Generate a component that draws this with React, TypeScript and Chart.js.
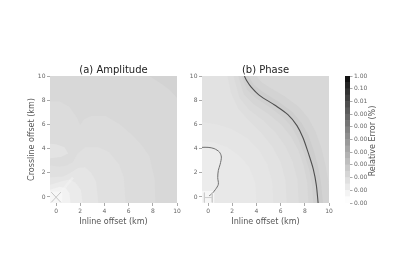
import { useEffect, useRef } from 'react';
import { Chart, registerables } from 'chart.js';

Chart.register(...registerables);
Chart.defaults.font.family = '"DejaVu Sans", sans-serif';

type Pt = [number, number];

// ---------- axes / text ----------
const AXIS_MIN = -0.5;
const AXIS_MAX = 10;
const TICK_STEP = 2;
const PANEL_TITLES = ['(a) Amplitude', '(b) Phase'];
const X_LABEL = 'Inline offset (km)';
const Y_LABEL = 'Crossline offset (km)';
const CB_LABEL = 'Relative Error (%)';
const CB_TICK_LABELS = ['0.00', '0.00', '0.00', '0.00', '0.00', '0.00', '0.00', '0.00', '0.01', '0.10', '1.00'];
const CB_GRAYS = [253, 244, 234, 224, 213, 202, 190, 178, 166, 154, 142, 130, 117, 104, 91, 78, 64, 50, 35, 18];

// ---------- (a) amplitude error zones (outer -> inner) ----------
const AMP_FULL: Pt[] = [[-0.5, -0.5], [10, -0.5], [10, 10], [-0.5, 10]];
const AMP_ZONE1: Pt[] = [[-0.5, -0.5], [10, -0.5], [10, 8.2], [9.4, 8.85], [8.8, 9.3], [8.2, 9.7], [7.7, 10], [-0.5, 10]];
const AMP_ZONE2: Pt[] = [[-0.5, -0.5], [8.2, -0.5], [8.15, 1.5], [7.7, 3.4], [7.0, 4.4], [6.2, 5.2], [5.3, 6.0], [4.1, 6.7], [2.9, 6.7], [2.3, 6.4], [2.0, 5.95], [1.7, 6.6], [1.1, 7.45], [0.3, 7.9], [-0.5, 7.9]];
const AMP_ZONE3: Pt[] = [[-0.5, -0.5], [5.75, -0.5], [5.6, 1.6], [5.2, 2.7], [4.4, 3.7], [3.5, 4.1], [2.4, 4.1], [1.75, 3.55], [1.4, 2.9], [0.9, 2.6], [0.3, 2.5], [-0.5, 2.6]];
const AMP_LOBE: Pt[] = [[-0.5, 3.2], [0.4, 3.3], [1.0, 3.6], [0.7, 4.1], [0, 4.35], [-0.5, 4.4]];
const AMP_ZONE4: Pt[] = [[-0.5, -0.5], [3.5, -0.5], [3.3, 1.3], [2.9, 2.0], [2.4, 2.45], [1.8, 2.4], [1.2, 2.0], [0.6, 1.7], [-0.5, 1.6]];
const AMP_ZONE5: Pt[] = [[-0.5, -0.5], [2.2, -0.5], [2.05, 0.6], [1.6, 1.2], [1.1, 1.45], [0.5, 1.3], [-0.5, 1.0]];
const AMP_ZONE6: Pt[] = [[-0.5, -0.5], [1.2, -0.5], [1.1, 0.3], [0.8, 0.75], [0.3, 0.85], [-0.5, 0.6]];
const AMP_SOURCE: Pt[] = [[-0.5, -0.5], [0.5, -0.5], [0.5, 0.45], [-0.5, 0.45]];
const AMP_RAY: Pt[] = [[0.3, 0.3], [1.4, 1.6]];
const AMP_X1: Pt[] = [[-0.4, 0.4], [0.4, -0.45]];
const AMP_X2: Pt[] = [[0.4, 0.4], [-0.4, -0.45]];
const AMP_SHADES = [211, 216, 220, 224, 227, 229, 235, 242, 247];

// ---------- (b) phase error zones ----------
const PH_FULL: Pt[] = [[-0.5, -0.5], [10, -0.5], [10, 10], [-0.5, 10]];
const PH_OUT2: Pt[] = [[4.0, 10], [4.4, 9.5], [5.1, 9.05], [6.3, 8.35], [7.5, 7.45], [8.3, 6.5], [8.9, 5.4], [9.35, 4.1], [9.7, 2.7], [9.95, 1.3], [10, 0.6]];
const PH_OUT1: Pt[] = [[3.35, 10], [3.75, 9.3], [4.5, 8.7], [5.8, 7.9], [6.95, 7.05], [7.75, 6.1], [8.3, 5.1], [8.75, 3.8], [9.1, 2.5], [9.35, 1.1], [9.5, -0.5]];
const PH_CURVE: Pt[] = [[3.0, 10], [3.2, 9.6], [3.55, 9.1], [4.25, 8.4], [5.5, 7.6], [6.6, 6.8], [7.35, 5.9], [7.85, 4.9], [8.3, 3.6], [8.7, 2.3], [8.95, 1.0], [9.1, -0.5]];
const PH_IN1: Pt[] = [[2.75, 10], [3.25, 8.85], [4.0, 8.15], [5.2, 7.35], [6.25, 6.55], [6.95, 5.75], [7.45, 4.8], [7.95, 3.6], [8.35, 2.3], [8.6, 1.0], [8.7, -0.5]];
const PH_IN2: Pt[] = [[2.5, 10], [2.95, 8.5], [3.8, 7.65], [5.0, 6.85], [6.05, 6.0], [6.85, 5.0], [7.45, 3.9], [7.9, 2.6], [8.2, 1.2], [8.3, -0.5]];
const PH_IN3: Pt[] = [[2.1, 10], [2.6, 8.2], [3.4, 7.2], [4.6, 6.3], [5.6, 5.3], [6.4, 4.2], [7.0, 2.9], [7.4, 1.4], [7.5, -0.5]];
const PH_IN4: Pt[] = [[1.6, 10], [1.9, 8.6], [2.5, 7.3], [3.4, 6.3], [4.4, 5.3], [5.3, 4.2], [6.0, 2.9], [6.4, 1.4], [6.5, -0.5]];
const PH_IN5: Pt[] = [[-0.5, 6.2], [0.8, 6.0], [2.0, 5.6], [3.2, 4.9], [4.2, 3.9], [4.9, 2.7], [5.3, 1.3], [5.4, -0.5]];
const PH_IN6: Pt[] = [[-0.5, 4.6], [0.5, 4.5], [1.6, 4.1], [2.6, 3.4], [3.4, 2.5], [3.9, 1.2], [4.0, -0.5]];
const PH_LOBE: Pt[] = [[-0.5, 4.1], [0, 4.1], [0.5, 4.0], [0.95, 3.7], [1.1, 3.3], [1.0, 2.7], [0.85, 2.2], [0.8, 1.6], [0.85, 1.05], [0.6, 0.6], [0.3, 0.25], [0.1, 0.1]];
const PH_SOURCE: Pt[] = [[-0.5, -0.5], [0.5, -0.5], [0.5, 0.5], [-0.5, 0.5]];
const PH_H1: Pt[] = [[-0.3, 0.35], [-0.3, -0.45]];
const PH_H2: Pt[] = [[0.35, 0.35], [0.35, -0.45]];
const PH_H3: Pt[] = [[-0.3, -0.05], [0.35, -0.05]];
const PH_SHADES = [216, 211, 205, 208, 213, 218, 222, 226, 229, 232, 236, 246];

// ---------- helpers ----------
const gray = (g: number) => `rgb(${g},${g},${g})`;
const toXY = (pts: Pt[]) => pts.map(([x, y]) => ({ x, y }));
const CORNER_BL: Pt = [-0.5, -0.5];
const CORNER_TL: Pt = [-0.5, 10];
const CORNER_BR: Pt = [10, -0.5];

function zone(points: Pt[], g: number, order: number) {
  return {
    data: toXY(points),
    showLine: true,
    fill: 'shape',
    backgroundColor: gray(g),
    borderColor: 'rgba(0,0,0,0)',
    borderWidth: 0,
    pointRadius: 0,
    pointHoverRadius: 0,
    tension: 0,
    order,
  };
}

function curve(points: Pt[], color: string, width: number, order: number, tension = 0.3) {
  return {
    data: toXY(points),
    showLine: true,
    fill: false,
    borderColor: color,
    backgroundColor: color,
    borderWidth: width,
    pointRadius: 0,
    pointHoverRadius: 0,
    tension,
    order,
  };
}

const TICK_FONT = { size: 6 };
const TICK_COLOR = '#666';
const LABEL_COLOR = '#555';
const fmtTick = (v: number) => String(Math.round(v));

// panel title centred over the plot area (like matplotlib axes titles)
const panelTitlePlugin = {
  id: 'panelTitle',
  afterDraw(chart: any, _args: any, opts: any) {
    if (!opts || !opts.text) return;
    const { ctx, chartArea } = chart;
    ctx.save();
    ctx.font = '10px "DejaVu Sans", sans-serif';
    ctx.fillStyle = '#222';
    ctx.textAlign = 'center';
    ctx.textBaseline = 'middle';
    ctx.fillText(opts.text, (chartArea.left + chartArea.right) / 2, chartArea.top - 6);
    ctx.restore();
  },
};

function panelConfig(title: string, datasets: any[], padLeft: number, padRight: number, yWidth: number, yTitle: boolean) {
  return {
    type: 'scatter',
    data: { datasets },
    options: {
      responsive: false,
      animation: false,
      events: [],
      layout: { padding: { left: padLeft, right: padRight, top: 76, bottom: 52 } },
      plugins: {
        legend: { display: false },
        tooltip: { enabled: false },
        title: { display: false },
        panelTitle: { text: title },
      },
      scales: {
        x: {
          type: 'linear',
          min: AXIS_MIN,
          max: AXIS_MAX,
          afterFit: (s: any) => { s.height = 25; },
          ticks: { stepSize: TICK_STEP, includeBounds: false, font: TICK_FONT, color: TICK_COLOR, padding: 2, maxRotation: 0, autoSkip: false, callback: fmtTick },
          grid: { drawOnChartArea: false, tickLength: 3, color: '#aaa' },
          border: { display: false },
          title: { display: true, text: X_LABEL, color: LABEL_COLOR, font: { size: 8 }, padding: { top: 0, bottom: 1.5 } },
        },
        y: {
          type: 'linear',
          min: AXIS_MIN,
          max: AXIS_MAX,
          afterFit: (s: any) => { s.width = yWidth; },
          ticks: { stepSize: TICK_STEP, includeBounds: false, font: TICK_FONT, color: TICK_COLOR, padding: 1.5, autoSkip: false, callback: fmtTick },
          grid: { drawOnChartArea: false, tickLength: 3, color: '#aaa' },
          border: { display: false },
          title: { display: yTitle, text: Y_LABEL, color: LABEL_COLOR, font: { size: 8 }, padding: { top: 7.5, bottom: 0 } },
        },
      },
    },
    plugins: [panelTitlePlugin],
  };
}

function ampConfig() {
  const s = AMP_SHADES;
  const datasets = [
    zone(AMP_FULL, s[0], 100),
    zone(AMP_ZONE1, s[1], 99),
    zone(AMP_ZONE2, s[2], 98),
    zone(AMP_ZONE3, s[3], 97),
    zone(AMP_LOBE, s[4], 96),
    zone(AMP_ZONE4, s[5], 95),
    zone(AMP_ZONE5, s[6], 94),
    zone(AMP_ZONE6, s[7], 93),
    zone(AMP_SOURCE, s[8], 92),
    curve(AMP_RAY, 'rgba(245,245,245,0.45)', 2.5, 5, 0),
    curve(AMP_X1, gray(198), 1, 3, 0),
    curve(AMP_X2, gray(198), 1, 3, 0),
  ];
  return panelConfig(PANEL_TITLES[0], datasets, 20, 223, 30, true);
}

function phaseConfig() {
  const s = PH_SHADES;
  const leftOf = (b: Pt[]) => [CORNER_BL, ...[...b].reverse(), CORNER_TL] as Pt[];
  const datasets = [
    zone(PH_FULL, s[0], 100),
    zone([CORNER_BL, CORNER_BR, ...[...PH_OUT2].reverse(), CORNER_TL], s[1], 99),
    zone(leftOf(PH_OUT1), s[2], 98),
    zone(leftOf(PH_CURVE), s[3], 97),
    zone(leftOf(PH_IN1), s[4], 96),
    zone(leftOf(PH_IN2), s[5], 95),
    zone(leftOf(PH_IN3), s[6], 94),
    zone(leftOf(PH_IN4), s[7], 93),
    zone([CORNER_BL, ...[...PH_IN5].reverse()], s[8], 92),
    zone([CORNER_BL, ...[...PH_IN6].reverse()], s[9], 91),
    zone([...PH_LOBE, [0.5, 0.5], [0.5, -0.5], CORNER_BL], s[10], 90),
    zone(PH_SOURCE, s[11], 89),
    curve(PH_CURVE, '#4f4f4f', 1.1, 2),
    curve(PH_LOBE, '#6f6f6f', 1, 2),
    curve(PH_H1, gray(205), 1, 1, 0),
    curve(PH_H2, gray(205), 1, 1, 0),
    curve(PH_H3, gray(205), 1, 1, 0),
  ];
  return panelConfig(PANEL_TITLES[1], datasets, 187, 71, 15, false);
}

const cbTitlePlugin = {
  id: 'cbTitle',
  afterDraw(chart: any) {
    const { ctx, chartArea, scales } = chart;
    ctx.save();
    ctx.translate(scales.y.right - 7, (chartArea.top + chartArea.bottom) / 2 + 1.5);
    ctx.rotate(-Math.PI / 2);
    ctx.font = '8px "DejaVu Sans", sans-serif';
    ctx.fillStyle = LABEL_COLOR;
    ctx.textAlign = 'center';
    ctx.textBaseline = 'middle';
    ctx.fillText(CB_LABEL, 0, 0);
    ctx.restore();
  },
};

function colorbarConfig() {
  const n = CB_GRAYS.length;
  return {
    type: 'bar',
    data: {
      labels: [''],
      datasets: CB_GRAYS.map((g) => ({
        data: [1],
        backgroundColor: gray(g),
        borderWidth: 0,
        barPercentage: 1,
        categoryPercentage: 1,
      })),
    },
    options: {
      responsive: false,
      animation: false,
      events: [],
      layout: { padding: { left: 345, right: 20, top: 76, bottom: 77 } },
      plugins: { legend: { display: false }, tooltip: { enabled: false }, title: { display: false } },
      scales: {
        x: { display: false, stacked: true },
        y: {
          stacked: true,
          position: 'right',
          min: 0,
          max: n,
          afterFit: (s: any) => { s.width = 30; },
          ticks: {
            stepSize: 2,
            font: TICK_FONT,
            color: TICK_COLOR,
            padding: 1.5,
            autoSkip: false,
            callback: (v: number) => CB_TICK_LABELS[Math.round(v / 2)] ?? '',
          },
          grid: { drawOnChartArea: false, tickLength: 2.5, color: '#aaa' },
          border: { display: false },
        },
      },
    },
    plugins: [cbTitlePlugin],
  };
}

function ChartCanvas({ make }: { make: () => any }) {
  const ref = useRef<HTMLCanvasElement | null>(null);
  useEffect(() => {
    if (!ref.current) return;
    const chart = new Chart(ref.current, make());
    return () => chart.destroy();
  }, [make]);
  return (
    <canvas
      ref={ref}
      width={400}
      height={280}
      style={{ position: 'absolute', left: 0, top: 0, width: 400, height: 280 }}
    />
  );
}

export default function App() {
  return (
    <div style={{ position: 'fixed', left: 0, top: 0, width: 400, height: 280, background: '#fff', overflow: 'hidden' }}>
      <ChartCanvas make={ampConfig} />
      <ChartCanvas make={phaseConfig} />
      <ChartCanvas make={colorbarConfig} />
    </div>
  );
}
